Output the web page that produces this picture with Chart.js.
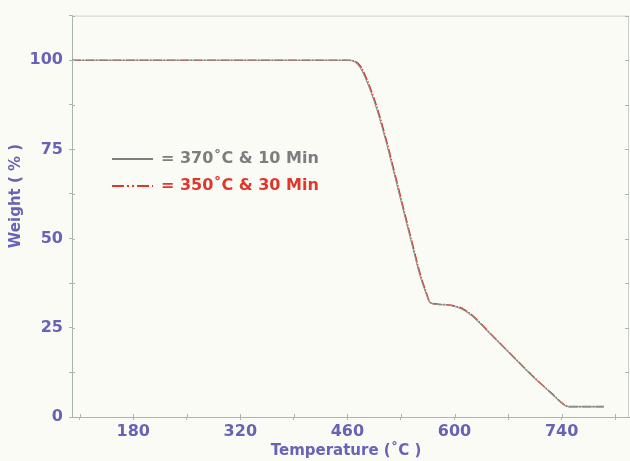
<!DOCTYPE html>
<html>
<head>
<meta charset="utf-8">
<script src="https://cdn.jsdelivr.net/npm/chart.js@4/dist/chart.umd.min.js"></script>
<style>
  body { margin: 0; background: #fafbf4; }
  canvas { display: block; }
</style>
</head>
<body>
<canvas id="tgaChart" width="630" height="461"></canvas>
<script>
// TGA curves
const temperature = [100, 200, 300, 400, 460, 470, 477, 488, 500, 511, 522, 535, 546, 555, 562, 568, 579, 596, 610, 623, 649, 675, 701, 727, 743, 749, 795];
const weight370 = [100, 100, 100, 100, 100, 99.5, 97.8, 92.6, 85.1, 76.7, 67.4, 56.2, 46.9, 39.5, 35.1, 32.0, 31.5, 31.2, 30.2, 28.3, 22.8, 17.2, 11.6, 6.5, 3.4, 2.9, 2.9];
const weight350 = [100, 100, 100, 100, 100, 99.7, 98.3, 93.2, 85.8, 77.4, 68.1, 56.9, 47.6, 40.1, 35.5, 32.2, 31.6, 31.3, 30.4, 28.5, 22.9, 17.3, 11.7, 6.6, 3.5, 2.9, 2.9];

const xTickValues = [110, 180, 250, 320, 390, 460, 530, 600, 670, 740, 810];
const xTickLabels = [180, 320, 460, 600, 740];
const yTickValues = [0, 12.5, 25, 37.5, 50, 62.5, 75, 87.5, 100, 112.5];
const yTickLabels = [0, 25, 50, 75, 100];

const seriesNames = ["= 370˚C & 10 Min", "= 350˚C & 30 Min"];

const tickColor = "#6963b6";
const axisColor = "#a9b6ae";
const tickFont = { family: "DejaVu Sans", weight: "bold", size: 16 };

function points(ys) {
    return temperature.map((t, i) => ({ x: t, y: ys[i] }));
}

// background, box, titles and the hand placed legend
const decor = {
    id: "decor",
    beforeDraw(chart) {
        const ctx = chart.ctx;
        ctx.save();
        ctx.fillStyle = "#fafbf4";
        ctx.fillRect(0, 0, chart.width, chart.height);
        ctx.restore();
    },
    afterDraw(chart) {
        const ctx = chart.ctx;
        const a = chart.chartArea;
        const x = chart.scales.x;
        const y = chart.scales.y;
        ctx.save();
        ctx.strokeStyle = "#ccd3cf";
        ctx.lineWidth = 1;
        ctx.beginPath();
        ctx.moveTo(a.left, a.top + 0.5);
        ctx.lineTo(a.right - 0.5, a.top + 0.5);
        ctx.lineTo(a.right - 0.5, a.bottom);
        ctx.stroke();
        // little ticks pointing inward
        ctx.strokeStyle = axisColor;
        yTickValues.forEach(v => {
            const py = Math.round(y.getPixelForValue(v)) + 0.5;
            ctx.beginPath();
            ctx.moveTo(a.right - 4, py);
            ctx.lineTo(a.right, py);
            ctx.moveTo(a.left, py);
            ctx.lineTo(a.left + 3, py);
            ctx.stroke();
        });
        xTickValues.forEach(v => {
            const px = Math.round(x.getPixelForValue(v)) + 0.5;
            ctx.beginPath();
            ctx.moveTo(px, a.bottom);
            ctx.lineTo(px, a.bottom - 3);
            ctx.stroke();
        });

        // axis titles
        ctx.fillStyle = tickColor;
        ctx.font = "bold 15px 'DejaVu Sans'";
        ctx.textAlign = "center";
        ctx.textBaseline = "middle";
        ctx.fillText("Temperature (˚C )", 346, 451);
        ctx.translate(16, 196);
        ctx.rotate(-Math.PI / 2);
        ctx.fillText("Weight ( % )", 0, 0);
        ctx.restore();

        // legend
        ctx.save();
        ctx.font = "bold 16px 'DejaVu Sans'";
        ctx.textBaseline = "middle";
        ctx.textAlign = "left";
        ctx.lineWidth = 2;
        ctx.strokeStyle = "#7d7d7d";
        ctx.beginPath();
        ctx.moveTo(112, 159);
        ctx.lineTo(153, 159);
        ctx.stroke();
        ctx.fillStyle = "#7d7d7d";
        ctx.fillText(seriesNames[0], 161, 159);
        ctx.strokeStyle = "#e0362c";
        ctx.setLineDash([12, 3, 2, 3, 2, 3]);
        ctx.beginPath();
        ctx.moveTo(112, 186);
        ctx.lineTo(153, 186);
        ctx.stroke();
        ctx.setLineDash([]);
        ctx.fillStyle = "#e0362c";
        ctx.fillText(seriesNames[1], 161, 186);
        ctx.restore();
    }
};

new Chart(document.getElementById("tgaChart"), {
    type: "line",
    data: {
        datasets: [
            {
                label: seriesNames[0],
                data: points(weight370),
                borderColor: "#8a948c",
                borderWidth: 1.1,
                pointRadius: 0,
                cubicInterpolationMode: "monotone"
            },
            {
                label: seriesNames[1],
                data: points(weight350),
                borderColor: "#e2342b",
                borderWidth: 1.6,
                borderDash: [9, 1.5, 1.5, 1.5],
                pointRadius: 0,
                cubicInterpolationMode: "monotone"
            }
        ]
    },
    options: {
        responsive: false,
        animation: false,
        layout: { padding: { top: 13, right: 1 } },
        plugins: {
            legend: { display: false },
            tooltip: { enabled: false }
        },
        scales: {
            x: {
                type: "linear",
                min: 100,
                max: 828,
                afterBuildTicks: scale => {
                    scale.ticks = xTickValues.map(v => ({ value: v }));
                },
                afterFit: scale => { scale.height = 44; },
                grid: { drawOnChartArea: false, tickLength: 3, color: axisColor },
                border: { color: axisColor },
                ticks: {
                    autoSkip: false,
                    maxRotation: 0,
                    padding: 2,
                    color: tickColor,
                    font: tickFont,
                    callback: v => xTickLabels.includes(v) ? String(v) : ""
                }
            },
            y: {
                min: 0,
                max: 112.5,
                afterBuildTicks: scale => {
                    scale.ticks = yTickValues.map(v => ({ value: v }));
                },
                afterFit: scale => { scale.width = 72; },
                grid: { drawOnChartArea: false, tickLength: 3, color: axisColor },
                border: { color: axisColor },
                ticks: {
                    autoSkip: false,
                    padding: 6,
                    color: tickColor,
                    font: tickFont,
                    callback: v => yTickLabels.includes(v) ? String(v) : ""
                }
            }
        }
    },
    plugins: [decor]
});
</script>
</body>
</html>
